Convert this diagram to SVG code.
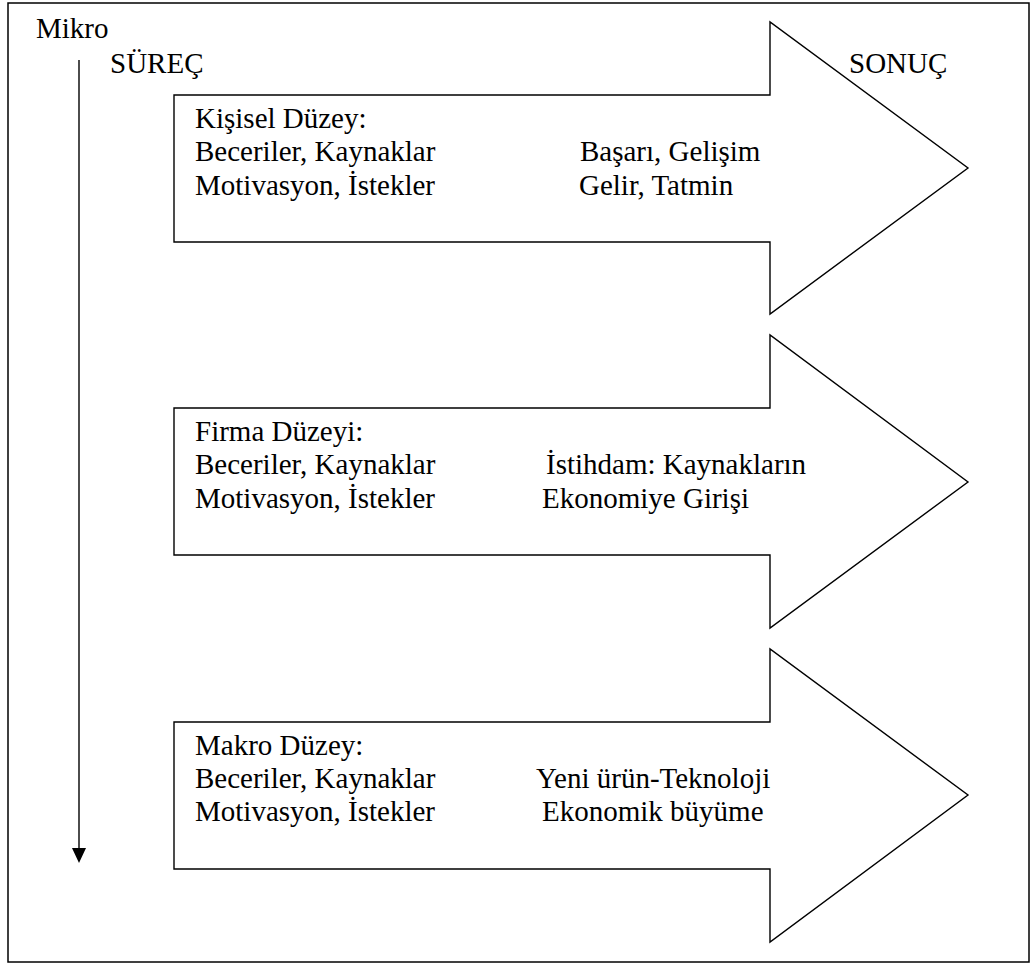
<svg xmlns="http://www.w3.org/2000/svg" width="1032" height="967" viewBox="0 0 1032 967" font-family="'Liberation Serif', 'DejaVu Serif', serif">
  <style>
    .frame { fill: #ffffff; stroke: #000000; stroke-width: 1.5; }
    .block { fill: #ffffff; stroke: #000000; stroke-width: 1.4; stroke-linejoin: miter; }
    .axis { stroke: #000000; stroke-width: 1.4; fill: none; }
    .lbl { font-family: 'Liberation Serif', 'DejaVu Serif', serif; font-size: 29px; fill: #000000; }
  </style>

  <!-- outer frame -->
  <rect class="frame" x="8" y="3" width="1021" height="959"/>

  <!-- axis labels -->
  <g id="axis-labels">
    <text class="lbl" x="36" y="38">Mikro</text>
    <text class="lbl" x="110" y="73">SÜREÇ</text>
    <text class="lbl" x="849" y="73">SONUÇ</text>
  </g>

  <!-- vertical process axis -->
  <g id="connectors">
    <line class="axis" x1="79" y1="60" x2="79" y2="848"/>
    <path d="M72,848 L86,848 L79,863 Z" fill="#000000"/>
  </g>

  <!-- individual level -->
  <g id="kisisel">
    <path class="block" d="M174,95 L770,95 L770,22 L968,168 L770,314 L770,242 L174,242 Z"/>
    <text class="lbl" x="195" y="128">Kişisel Düzey:</text>
    <text class="lbl" x="195" y="161">Beceriler, Kaynaklar</text>
    <text class="lbl" x="195" y="195">Motivasyon, İstekler</text>
    <text class="lbl" x="580" y="161">Başarı, Gelişim</text>
    <text class="lbl" x="579" y="195">Gelir, Tatmin</text>
  </g>

  <!-- firm level -->
  <g id="firma">
    <path class="block" d="M174,408 L770,408 L770,335 L968,482 L770,628 L770,555 L174,555 Z"/>
    <text class="lbl" x="195" y="441">Firma Düzeyi:</text>
    <text class="lbl" x="195" y="474">Beceriler, Kaynaklar</text>
    <text class="lbl" x="195" y="508">Motivasyon, İstekler</text>
    <text class="lbl" x="546" y="474">İstihdam: Kaynakların</text>
    <text class="lbl" x="542" y="508">Ekonomiye Girişi</text>
  </g>

  <!-- macro level -->
  <g id="makro">
    <path class="block" d="M174,722 L770,722 L770,649 L968,795 L770,942 L770,869 L174,869 Z"/>
    <text class="lbl" x="195" y="755">Makro Düzey:</text>
    <text class="lbl" x="195" y="788">Beceriler, Kaynaklar</text>
    <text class="lbl" x="195" y="821">Motivasyon, İstekler</text>
    <text class="lbl" x="536" y="788">Yeni ürün-Teknoloji</text>
    <text class="lbl" x="542" y="821">Ekonomik büyüme</text>
  </g>
</svg>
